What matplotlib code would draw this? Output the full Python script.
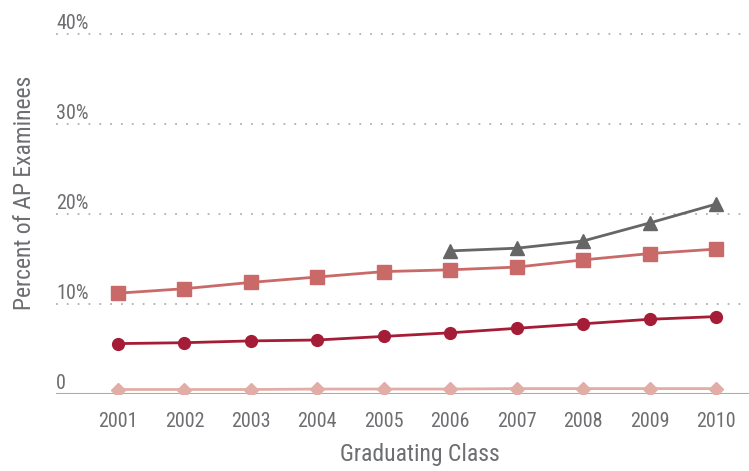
import matplotlib
matplotlib.use("Agg")
import matplotlib.pyplot as plt
from matplotlib.transforms import blended_transform_factory

plt.rcParams['font.family'] = ['Roboto Condensed', 'DejaVu Sans']

years = [2001, 2002, 2003, 2004, 2005, 2006, 2007, 2008, 2009, 2010]
circles = [5.6, 5.7, 5.9, 6.0, 6.4, 6.8, 7.3, 7.8, 8.3, 8.6]
squares = [11.2, 11.7, 12.4, 13.0, 13.6, 13.8, 14.1, 14.9, 15.6, 16.1]
tri_years = [2006, 2007, 2008, 2009, 2010]
triangles = [15.9, 16.2, 17.0, 19.0, 21.1]
diamonds = [0.5, 0.5, 0.5, 0.55, 0.55, 0.55, 0.6, 0.6, 0.6, 0.6]
y_ticks = [0, 10, 20, 30, 40]
y_labels = ["0", "10%", "20%", "30%", "40%"]

text_color = "#6d6e71"

fig = plt.figure(figsize=(7.49, 4.71), dpi=100)
ax = fig.add_axes([56/749, 77/471, 693/749, (394-25)/471])
ax.set_xlim(2000.067, 2010.497)
ax.set_ylim(0, 41)

for s in ax.spines.values():
    s.set_visible(False)
ax.axhline(0, color="#aaaaaa", lw=1.5, zorder=1)
for t in y_ticks[1:]:
    ax.axhline(t, color="#b0b0b0", lw=1.3, linestyle=(0, (1, 5.0)), zorder=1)

trans = blended_transform_factory(ax.transAxes, ax.transData)
for t, lab in zip(y_ticks, y_labels):
    ax.text(0.0, t + 0.6, lab, transform=trans, ha="left", va="baseline",
            fontsize=14.5, color=text_color)

ax.set_yticks([])
ax.set_xticks(years)
ax.set_xticklabels([str(y) for y in years], fontsize=14.5, color=text_color)
ax.tick_params(axis="x", length=0, pad=13)

ax.plot(years, diamonds, color="#e2aca7", lw=2, marker="D", ms=7, zorder=3)
ax.plot(years, circles, color="#a51c36", lw=2, marker="o", ms=8.5, zorder=4)
ax.plot(years, squares, color="#c96a69", lw=2, marker="s", ms=9.5, zorder=4)
ax.plot(tri_years, triangles, color="#666666", lw=2, marker="^", ms=10, zorder=5)

fig.text(420/749, 1 - 455/471, "Graduating Class", ha="center", va="center",
         fontsize=17, color=text_color)
fig.text(25/749, 1 - 193/471, "Percent of AP Examinees", ha="center", va="center",
         rotation=90, fontsize=17, color=text_color)

fig.savefig("out.png", dpi=100)
